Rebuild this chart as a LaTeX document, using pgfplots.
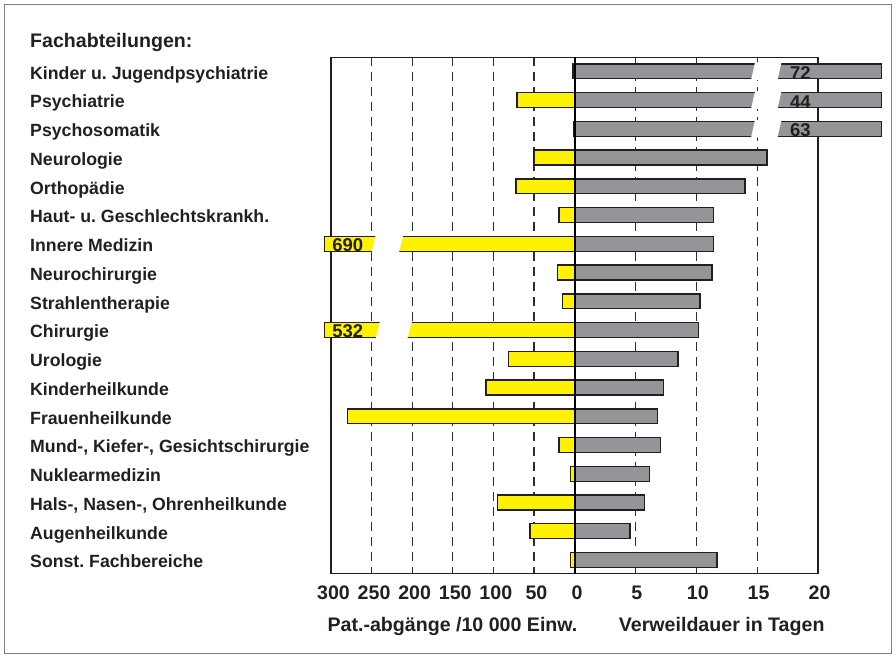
\documentclass[border=0pt]{standalone}
\usepackage{pgfplots}
\pgfplotsset{compat=1.18}
\usepackage{pgfplotstable}
\usepackage{fontspec}
\setmainfont{Liberation Sans}
\frenchspacing

\definecolor{barY}{RGB}{255,242,0}
\definecolor{barG}{RGB}{147,149,152}
\definecolor{ink}{RGB}{35,31,32}
\definecolor{gridc}{RGB}{45,45,45}
\definecolor{framec}{RGB}{128,128,128}

% k = row (0 = top), pat = Pat.-abgaenge /10 000 Einw., days = Verweildauer in Tagen
\pgfplotstableread[col sep=comma]{
k,pat,days
0,2,72
1,71,44
2,1,63
3,50,15.8
4,72,14.0
5,19,11.4
6,690,11.4
7,21,11.3
8,15,10.3
9,532,10.2
10,81,8.5
11,109,7.3
12,280,6.8
13,19,7.05
14,5,6.15
15,95,5.75
16,55,4.55
17,5,11.7
}\data

\newcommand\catfont{\fontsize{17.7}{20}\selectfont\bfseries}
\newcommand\bigfont{\fontsize{19.6}{22}\selectfont\bfseries}
\newcommand\valfont{\fontsize{18.5}{20}\selectfont\bfseries}

\pgfplotsset{
  common/.style={
    scale only axis, width=243.5pt, height=516.4pt,
    ymin=-0.487, ymax=17.477, y dir=reverse, ytick=\empty,
    axis line style={ink, line width=1.3pt},
    xmajorgrids,
    major grid style={gridc, line width=1.2pt, dash pattern=on 9pt off 6pt},
    major tick length=0pt,
    xticklabel style={font=\bigfont, text=ink, anchor=base, yshift=-25.6pt},
    clip=false,
    xbar, bar width=14.8pt, bar shift=0pt,
  }
}

\begin{document}
\begin{tikzpicture}[x=1pt,y=1pt]
\path[use as bounding box] (0,0) rectangle (896,658);
\draw[framec, line width=1.5pt] (4.7,4.7) rectangle (891.3,653.3);

\node[anchor=base west, inner sep=0, font=\bigfont, text=ink] at (30,{658-47.7}) {Fachabteilungen:};
\foreach \n [count=\i from 0] in {Kinder u. Jugendpsychiatrie, Psychiatrie, Psychosomatik, Neurologie, Orthopädie, Haut- u. Geschlechtskrankh., Innere Medizin, Neurochirurgie, Strahlentherapie, Chirurgie, Urologie, Kinderheilkunde, Frauenheilkunde, {Mund-, Kiefer-, Gesichtschirurgie}, Nuklearmedizin, {Hals-, Nasen-, Ohrenheilkunde}, Augenheilkunde, Sonst. Fachbereiche}
  \node[anchor=base west, inner sep=0, font=\catfont, text=ink] at (30,{658-(71.3+28.75*\i+7.8)}) {\n};

\node[anchor=base, inner sep=0, font=\bigfont, text=ink] at (452.5,{658-631.7}) {Pat.-abgänge /10 000 Einw.};
\node[anchor=base, inner sep=0, font=\bigfont, text=ink] at (721.7,{658-631.7}) {Verweildauer in Tagen};

% left axis: Pat.-abgaenge
\begin{axis}[common, at={(331pt,84.3pt)}, anchor=south west,
  xmin=0, xmax=300, x dir=reverse,
  xtick={0,50,...,300}, xticklabels={0,50,100,150,200,250,300},
  xticklabel style={xshift=2.5pt},
  x filter/.expression={x>308.2 ? 308.2 : x}]
\addplot[fill=barY, draw=ink, line width=1.3pt] table[x=pat,y=k]{\data};
\fill[white] (axis cs:244.9,5.69) -- (axis cs:210.9,5.69) -- (axis cs:216.3,6.31) -- (axis cs:249.9,6.31) -- cycle;
\fill[white] (axis cs:239.6,8.69) -- (axis cs:200.2,8.69) -- (axis cs:206.0,9.31) -- (axis cs:244.9,9.31) -- cycle;
\node[anchor=base west, inner sep=0, font=\valfont, text=ink] at (axis cs:298.5,6.26) {690};
\node[anchor=base west, inner sep=0, font=\valfont, text=ink] at (axis cs:298.5,9.26) {532};
\end{axis}

% right axis: Verweildauer
\begin{axis}[common, at={(574.5pt,84.3pt)}, anchor=south west,
  xmin=0, xmax=20,
  xtick={5,10,15,20}, xticklabels={5,10,15,20},
  xticklabel style={xshift=1.5pt},
  x filter/.expression={x>25.23 ? 25.23 : x}]
\addplot[fill=barG, draw=ink, line width=1.3pt] table[x=days,y=k]{\data};
\fill[white] (axis cs:14.83,-0.31) -- (axis cs:17.0,-0.31) -- (axis cs:16.67,0.31) -- (axis cs:14.50,0.31) -- cycle;
\fill[white] (axis cs:14.83,0.69) -- (axis cs:17.0,0.69) -- (axis cs:16.67,1.31) -- (axis cs:14.50,1.31) -- cycle;
\fill[white] (axis cs:14.83,1.69) -- (axis cs:17.0,1.69) -- (axis cs:16.67,2.31) -- (axis cs:14.50,2.31) -- cycle;
\node[anchor=base west, inner sep=0, font=\valfont, text=ink] at (axis cs:17.7,0.28) {72};
\node[anchor=base west, inner sep=0, font=\valfont, text=ink] at (axis cs:17.7,1.28) {44};
\node[anchor=base west, inner sep=0, font=\valfont, text=ink] at (axis cs:17.7,2.28) {63};
\draw[black, line width=2pt] (axis cs:0,-0.487) -- (axis cs:0,17.477);
\end{axis}
\end{tikzpicture}
\end{document}
